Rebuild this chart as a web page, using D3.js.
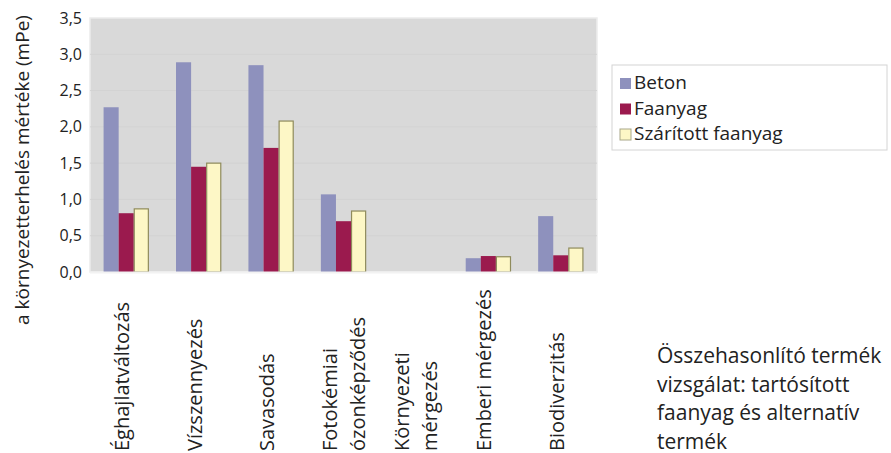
<!DOCTYPE html>
<html>
<head>
<meta charset="utf-8">
<script src="https://cdn.jsdelivr.net/npm/d3@7/dist/d3.min.js"></script>
<style>
  body { margin: 0; background: #fff; }
  svg { display: block; font-family: "Open Sans", "Noto Sans", sans-serif; }
</style>
</head>
<body>
<script>
// data
var categories = [
  ['Éghajlatváltozás'],
  ['Vízszennyezés'],
  ['Savasodás'],
  ['Fotokémiai', 'ózonképződés'],
  ['Környezeti', 'mérgezés'],
  ['Emberi mérgezés'],
  ['Biodiverzitás']
];
var seriesNames = ['Beton', 'Faanyag', 'Szárított faanyag'];
var beton = [2.27, 2.89, 2.85, 1.07, 0, 0.19, 0.77];
var faanyag = [0.81, 1.45, 1.71, 0.70, 0, 0.22, 0.23];
var szaritott = [0.87, 1.50, 2.08, 0.84, 0, 0.21, 0.33];
var yTicks = [0, 0.5, 1, 1.5, 2, 2.5, 3, 3.5];
var yTitle = 'a környezetterhelés mértéke (mPe)';
var caption = ['Összehasonlító termék', 'vizsgálat: tartósított', 'faanyag és alternatív', 'termék'];

var fills = ['#8e91bd', '#9b1a4e', '#fdf7c6'];
var strokes = ['none', 'none', '#8f8b5c'];
var seriesVals = [beton, faanyag, szaritott];

var W = 891, H = 453;
var plotL = 90, plotR = 597, plotT = 18, plotB = 272;

var svg = d3.select('body').append('svg')
  .attr('width', W)
  .attr('height', H);

var x = d3.scaleBand()
  .domain(d3.range(categories.length))
  .range([plotL, plotR]);

var x1 = d3.scaleBand()
  .domain(d3.range(seriesNames.length))
  .range([0, x.bandwidth()])
  .paddingOuter(0.9)
  .paddingInner(0);

var y = d3.scaleLinear()
  .domain([0, 3.5])
  .range([plotB, plotT]);

// plot background
svg.append('rect')
  .attr('x', plotL)
  .attr('y', plotT)
  .attr('width', plotR - plotL)
  .attr('height', plotB - plotT)
  .attr('fill', '#d9d9d9')
  .attr('stroke', '#ececec')
  .attr('stroke-width', 1.5);

// faint gridlines
svg.append('g')
  .selectAll('line')
  .data(yTicks.slice(1, -1))
  .enter()
  .append('line')
  .attr('x1', plotL)
  .attr('x2', plotR)
  .attr('y1', function(d) { return y(d); })
  .attr('y2', function(d) { return y(d); })
  .attr('stroke', '#d3d3d3')
  .attr('stroke-width', 1);

// y axis
var yAxis = svg.append('g')
  .attr('transform', 'translate(' + (plotL - 8) + ',0)')
  .call(d3.axisLeft(y)
    .tickValues(yTicks)
    .tickSize(0)
    .tickPadding(0)
    .tickFormat(function(d) { return d3.format('.1f')(d).replace('.', ','); }));
yAxis.select('.domain').remove();
yAxis.selectAll('text')
  .attr('font-size', 16)
  .attr('fill', '#222')
  .attr('font-family', '"Open Sans", "Noto Sans", sans-serif');

// bars
var groups = svg.append('g')
  .selectAll('g')
  .data(categories)
  .enter()
  .append('g')
  .attr('transform', function(d, i) { return 'translate(' + x(i) + ',0)'; });

groups.selectAll('rect')
  .data(function(d, i) {
    return seriesVals.map(function(s, k) { return { k: k, v: s[i] }; });
  })
  .enter()
  .append('rect')
  .filter(function(d) { return d.v > 0; })
  .attr('x', function(d) { return x1(d.k) + (d.k === 2 ? 0.5 : 0); })
  .attr('width', function(d) { return x1.bandwidth() - (d.k === 2 ? 1 : 0); })
  .attr('y', function(d) { return y(d.v); })
  .attr('height', function(d) { return plotB - y(d.v); })
  .attr('fill', function(d) { return fills[d.k]; })
  .attr('stroke', function(d) { return strokes[d.k]; })
  .attr('stroke-width', 1.2);

// baseline
svg.append('line')
  .attr('x1', plotL)
  .attr('x2', plotR)
  .attr('y1', plotB + 0.5)
  .attr('y2', plotB + 0.5)
  .attr('stroke', '#f2f2f2')
  .attr('stroke-width', 2);

// x labels, rotated
var labelG = svg.append('g')
  .selectAll('text')
  .data(categories)
  .enter()
  .append('text')
  .attr('transform', function(d, i) {
    var cx = x(i) + x.bandwidth() / 2;
    var off = d.length === 2 ? -7 : 3;
    return 'translate(' + (cx + off) + ',451) rotate(-90)';
  })
  .attr('font-size', 20)
  .attr('fill', '#222')
  .attr('text-anchor', 'start');

labelG.selectAll('tspan')
  .data(function(d) { return d; })
  .enter()
  .append('tspan')
  .attr('x', 0)
  .attr('dy', function(d, j) { return j === 0 ? 0 : 28; })
  .text(function(d) { return d; });

// y title
svg.append('text')
  .attr('transform', 'translate(29,170) rotate(-90)')
  .attr('text-anchor', 'middle')
  .attr('font-size', 19)
  .attr('fill', '#222')
  .text(yTitle);

// legend
var legend = svg.append('g');
legend.append('rect')
  .attr('x', 612)
  .attr('y', 65)
  .attr('width', 275)
  .attr('height', 85)
  .attr('fill', '#fff')
  .attr('stroke', '#d4d4d4');

var items = legend.selectAll('g.item')
  .data(seriesNames)
  .enter()
  .append('g')
  .attr('class', 'item')
  .attr('transform', function(d, i) { return 'translate(620,' + (89 + i * 25.5) + ')'; });

items.append('rect')
  .attr('x', 0)
  .attr('y', -11)
  .attr('width', 11)
  .attr('height', 11)
  .attr('fill', function(d, i) { return fills[i]; })
  .attr('stroke', function(d, i) { return i === 2 ? '#a9a88a' : 'none'; });

items.append('text')
  .attr('x', 14)
  .attr('y', 0)
  .attr('font-size', 19)
  .attr('fill', '#222')
  .text(function(d) { return d; });

// caption
svg.append('text')
  .attr('font-size', 21)
  .attr('fill', '#222')
  .selectAll('tspan')
  .data(caption)
  .enter()
  .append('tspan')
  .attr('x', 657)
  .attr('y', function(d, i) { return 363 + i * 28.5; })
  .text(function(d) { return d; });
</script>
</body>
</html>
